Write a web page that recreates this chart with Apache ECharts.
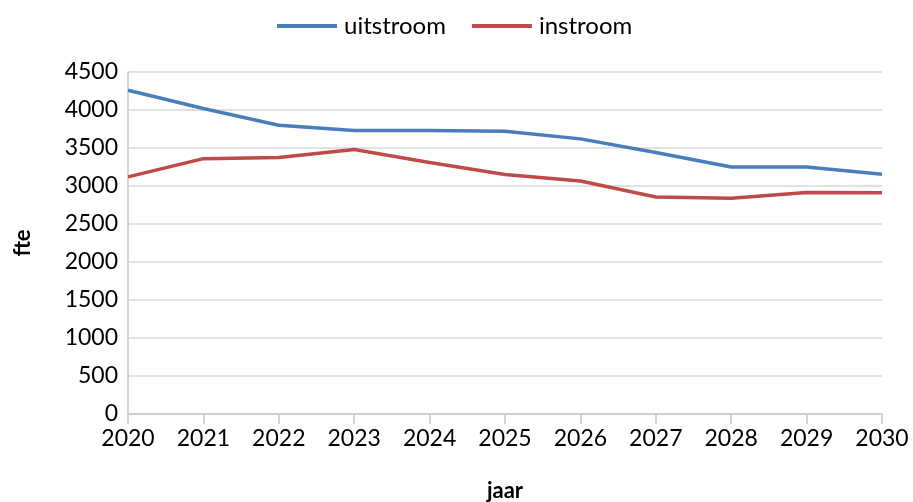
<!DOCTYPE html>
<html><head><meta charset="utf-8">
<script src="https://cdn.jsdelivr.net/npm/echarts@6/dist/echarts.min.js"></script>
<style>html,body{margin:0;padding:0;background:#fff}#c{width:913px;height:502px}</style>
</head><body><div id="c"></div>
<script>
const years = ['2020','2021','2022','2023','2024','2025','2026','2027','2028','2029','2030'];
const uitstroom = [4260, 4020, 3800, 3730, 3730, 3720, 3620, 3440, 3250, 3250, 3155];
const instroom = [3120, 3360, 3375, 3480, 3310, 3150, 3065, 2855, 2840, 2915, 2910];
const yTicks = [0, 500, 1000, 1500, 2000, 2500, 3000, 3500, 4000, 4500];

const font = 'Lato, "Open Sans", sans-serif';
const chart = echarts.init(document.getElementById('c'));
chart.setOption({
  animation: false,
  textStyle: { fontFamily: font },
  legend: {
    top: 9, left: 272, itemWidth: 60, itemHeight: 4, itemGap: 26,
    icon: 'rect',
    textStyle: { fontSize: 24, color: '#000', fontFamily: font, padding: [0, 0, 0, 2] },
    data: ['uitstroom', 'instroom']
  },
  grid: { left: 128, right: 31, top: 72, bottom: 88, containLabel: false, outerBoundsMode: 'none' },
  xAxis: {
    type: 'category', data: years, boundaryGap: false,
    name: 'jaar', nameLocation: 'middle', nameGap: 66,
    nameTextStyle: { fontSize: 22, fontWeight: 'bold', color: '#000', fontFamily: font },
    axisLine: { lineStyle: { color: '#c8c8c8', width: 1.5 } },
    axisTick: { show: true, length: 10, alignWithLabel: true, lineStyle: { color: '#c8c8c8', width: 1.5 } },
    axisLabel: { fontSize: 23, color: '#000', margin: 13, fontFamily: font }
  },
  yAxis: {
    type: 'value', min: 0, max: 4500, interval: 500,
    name: 'fte', nameLocation: 'middle', nameGap: 94, nameRotate: 90,
    nameTextStyle: { fontSize: 22, fontWeight: 'bold', color: '#000', fontFamily: font },
    axisLine: { show: true, lineStyle: { color: '#c8c8c8', width: 1.5 } },
    axisTick: { show: false },
    axisLabel: { fontSize: 23, color: '#000', margin: 10, fontFamily: font,
      formatter: v => yTicks.includes(v) ? String(v) : '' },
    splitLine: { lineStyle: { color: '#d9d9d9', width: 1.5 } }
  },
  series: [
    { name: 'uitstroom', type: 'line', data: uitstroom, showSymbol: false, symbol: 'none',
      lineStyle: { color: '#4A7EBB', width: 3.5 }, itemStyle: { color: '#4A7EBB' } },
    { name: 'instroom', type: 'line', data: instroom, showSymbol: false, symbol: 'none',
      lineStyle: { color: '#BE4B48', width: 3.5 }, itemStyle: { color: '#BE4B48' } }
  ]
});
</script></body></html>
